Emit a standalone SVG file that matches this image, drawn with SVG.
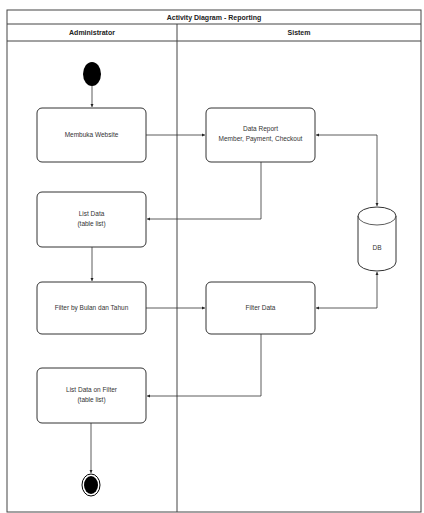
<svg xmlns="http://www.w3.org/2000/svg" width="424" height="513" viewBox="0 0 424 513">
<defs>
<marker id="arr" viewBox="0 0 6 6" refX="6" refY="3" markerWidth="4" markerHeight="4" orient="auto-start-reverse">
<path d="M0,0 L6,3 L0,6 Z" fill="#222"/>
</marker>
<style>
.frame{fill:none;stroke:#444;stroke-width:1}
.box{fill:#fff;stroke:#333;stroke-width:1}
.t{font-family:"Liberation Sans",Arial,sans-serif;font-size:6.5px;fill:#333;text-anchor:middle}
.h{font-family:"Liberation Sans",Arial,sans-serif;font-size:7px;font-weight:bold;fill:#222;text-anchor:middle}
.c{fill:none;stroke:#333;stroke-width:0.8}
</style>
</defs>
<rect width="424" height="513" fill="#fff"/>
<g id="pool">
<rect class="frame" x="7" y="10" width="414" height="502"/>
<line class="frame" x1="7" y1="24" x2="421" y2="24"/>
<line class="frame" x1="7" y1="41" x2="421" y2="41"/>
<line class="frame" x1="177" y1="24" x2="177" y2="512"/>
<text class="h" x="214" y="20">Activity Diagram - Reporting</text>
<text class="h" x="92" y="35">Administrator</text>
<text class="h" x="299" y="35">Sistem</text>
</g>
<g id="start"><ellipse cx="92" cy="74" rx="9" ry="12" fill="#000"/></g>
<g id="membuka"><rect class="box" x="37" y="108" width="109" height="54" rx="5"/><text class="t" x="91.5" y="137">Membuka Website</text></g>
<g id="datareport"><rect class="box" x="206" y="108" width="109" height="54" rx="5"/><text class="t" x="260.5" y="131">Data Report</text><text class="t" x="260.5" y="141">Member, Payment, Checkout</text></g>
<g id="listdata"><rect class="box" x="37" y="192" width="109" height="55" rx="5"/><text class="t" x="91.5" y="216">List Data</text><text class="t" x="91.5" y="226">(table list)</text></g>
<g id="db"><path class="box" d="M358,216 A19,9 0 0 1 396,216 L396,262 A19,9 0 0 1 358,262 Z"/><path class="c" d="M358,216 A19,9 0 0 0 396,216"/><text class="t" x="377" y="250">DB</text></g>
<g id="filterby"><rect class="box" x="37" y="282" width="109" height="52" rx="5"/><text class="t" x="91.5" y="310">Filter by Bulan dan Tahun</text></g>
<g id="filterdata"><rect class="box" x="206" y="282" width="109" height="52" rx="5"/><text class="t" x="260.5" y="310">Filter Data</text></g>
<g id="listfilter"><rect class="box" x="37" y="368" width="109" height="55" rx="5"/><text class="t" x="91.5" y="392">List Data on Filter</text><text class="t" x="91.5" y="402">(table list)</text></g>
<g id="end"><ellipse cx="91" cy="485" rx="9" ry="11" fill="none" stroke="#000" stroke-width="1"/><ellipse cx="91" cy="485" rx="7" ry="9" fill="#000"/></g>
<g id="connectors">
<line class="c" x1="92" y1="86" x2="92" y2="107" marker-end="url(#arr)"/>
<line class="c" x1="146" y1="135" x2="205" y2="135" marker-end="url(#arr)"/>
<polyline class="c" points="261,162 261,219 147,219" marker-end="url(#arr)"/>
<polyline class="c" points="316,135 377,135 377,206" marker-start="url(#arr)" marker-end="url(#arr)"/>
<line class="c" x1="92" y1="247" x2="92" y2="281" marker-end="url(#arr)"/>
<line class="c" x1="146" y1="308" x2="205" y2="308" marker-end="url(#arr)"/>
<polyline class="c" points="377,272 377,308 316,308" marker-start="url(#arr)" marker-end="url(#arr)"/>
<polyline class="c" points="261,334 261,396 147,396" marker-end="url(#arr)"/>
<line class="c" x1="91" y1="423" x2="91" y2="473" marker-end="url(#arr)"/>
</g>
</svg>
